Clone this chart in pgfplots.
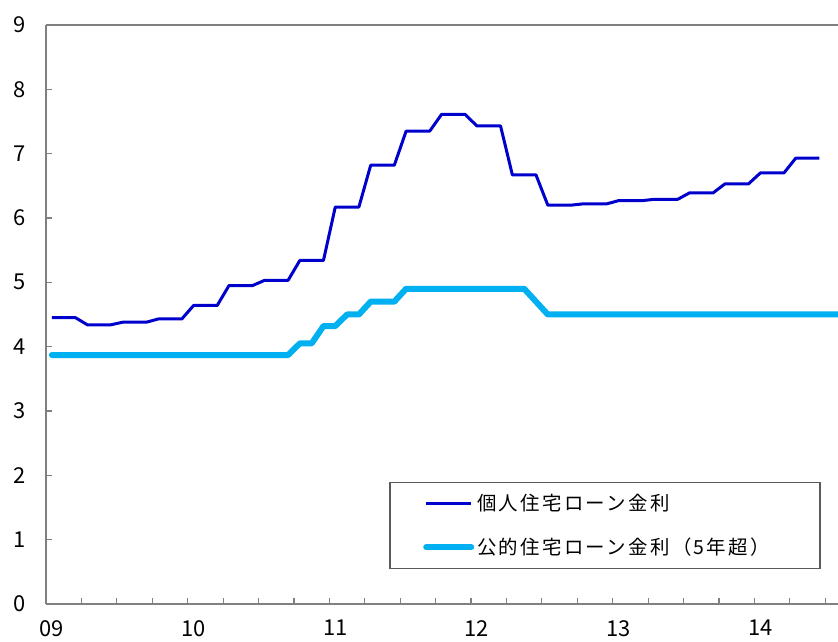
\documentclass[border=0pt]{standalone}
\usepackage{fontspec}
\setmainfont{Noto Sans CJK JP}
\usepackage{pgfplots}
\pgfplotsset{compat=1.18}
\definecolor{dblue}{RGB}{0,0,204}
\definecolor{cyanl}{RGB}{0,176,240}
\definecolor{axgray}{RGB}{128,128,128}
\definecolor{leggray}{RGB}{90,90,90}
\begin{document}
\begin{tikzpicture}
\begin{axis}[
  scale only axis, width=792bp, height=579bp,
  xmin=-0.5, xmax=66.58, ymin=0, ymax=9,
  axis x line=bottom, axis y line=left,
  axis line style={-, draw=axgray, line width=1.5bp},
  ytick={0,...,9},
  xtick={-0.5,2.5,...,65.5}, xticklabels={},
  extra x ticks={0,12,24,36,48,60},
  extra x tick labels={09,10,11,12,13,14},
  extra x tick style={major tick length=0pt},
  tick align=inside,
  major tick length=6bp,
  tick style={draw=axgray, line width=1.2bp},
  /pgf/number format/assume math mode=true,
  tick label style={font=\fontsize{22}{22}\selectfont},
  yticklabel style={anchor=east, inner sep=0pt, xshift=-20bp},
  xticklabel style={anchor=north, inner sep=0pt, yshift=-16bp},
  clip mode=individual,
  legend style={at={(0.9785,0.0604)}, anchor=south east, draw=leggray,
    line width=1.5bp, fill=white, inner xsep=33bp, inner ysep=0pt,
    row sep=2bp, column sep=3bp,
    nodes={inner sep=0pt, text height=28.4bp, text depth=13.6bp},
    font=\fontsize{19.5}{20}\selectfont\addfontfeature{LetterSpace=12}},
  legend cell align=left,
  legend image code/.code={\draw[#1] (0bp,0bp) -- (45bp,0bp);},
]
\addplot[dblue, line width=3bp, line join=round] coordinates {
(0,4.45)(1,4.45)(2,4.45)(3,4.34)(4,4.34)(5,4.34)(6,4.38)(7,4.38)(8,4.38)
(9,4.43)(10,4.43)(11,4.43)(12,4.64)(13,4.64)(14,4.64)(15,4.95)(16,4.95)(17,4.95)
(18,5.03)(19,5.03)(20,5.03)(21,5.34)(22,5.34)(23,5.34)(24,6.17)(25,6.17)(26,6.17)
(27,6.82)(28,6.82)(29,6.82)(30,7.35)(31,7.35)(32,7.35)(33,7.61)(34,7.61)(35,7.61)
(36,7.43)(37,7.43)(38,7.43)(39,6.67)(40,6.67)(41,6.67)(42,6.20)(43,6.20)(44,6.20)
(45,6.22)(46,6.22)(47,6.22)(48,6.27)(49,6.27)(50,6.27)(51,6.29)(52,6.29)(53,6.29)
(54,6.39)(55,6.39)(56,6.39)(57,6.53)(58,6.53)(59,6.53)(60,6.70)(61,6.70)(62,6.70)
(63,6.93)(64,6.93)(65,6.93)
};
\addlegendentry{\makebox[310bp][l]{個人住宅ローン金利}}
\addplot[cyanl, line width=6bp, line join=round, line cap=round] coordinates {
(0,3.87)(1,3.87)(2,3.87)(3,3.87)(4,3.87)(5,3.87)(6,3.87)(7,3.87)(8,3.87)(9,3.87)
(10,3.87)(11,3.87)(12,3.87)(13,3.87)(14,3.87)(15,3.87)(16,3.87)(17,3.87)(18,3.87)
(19,3.87)(20,3.87)(21,4.05)(22,4.05)(23,4.32)(24,4.32)(25,4.50)(26,4.50)
(27,4.70)(28,4.70)(29,4.70)(30,4.90)(31,4.90)(32,4.90)(33,4.90)(34,4.90)(35,4.90)
(36,4.90)(37,4.90)(38,4.90)(39,4.90)(40,4.90)(41,4.70)(42,4.50)(43,4.50)(44,4.50)
(45,4.50)(46,4.50)(47,4.50)(48,4.50)(49,4.50)(50,4.50)(51,4.50)(52,4.50)(53,4.50)
(54,4.50)(55,4.50)(56,4.50)(57,4.50)(58,4.50)(59,4.50)(60,4.50)(61,4.50)(62,4.50)
(63,4.50)(64,4.50)(65,4.50)(66,4.50)(67,4.50)
};
\addlegendentry{\makebox[310bp][l]{公的住宅ローン金利（5年超）}}
\draw[axgray, line width=1.5bp] (rel axis cs:0,1) -- (rel axis cs:1,1);
\end{axis}
\pgfresetboundingbox
\path[use as bounding box] ([xshift=-46bp,yshift=-38bp]current axis.south west) rectangle ([yshift=25bp]current axis.north east);
\end{tikzpicture}
\end{document}
